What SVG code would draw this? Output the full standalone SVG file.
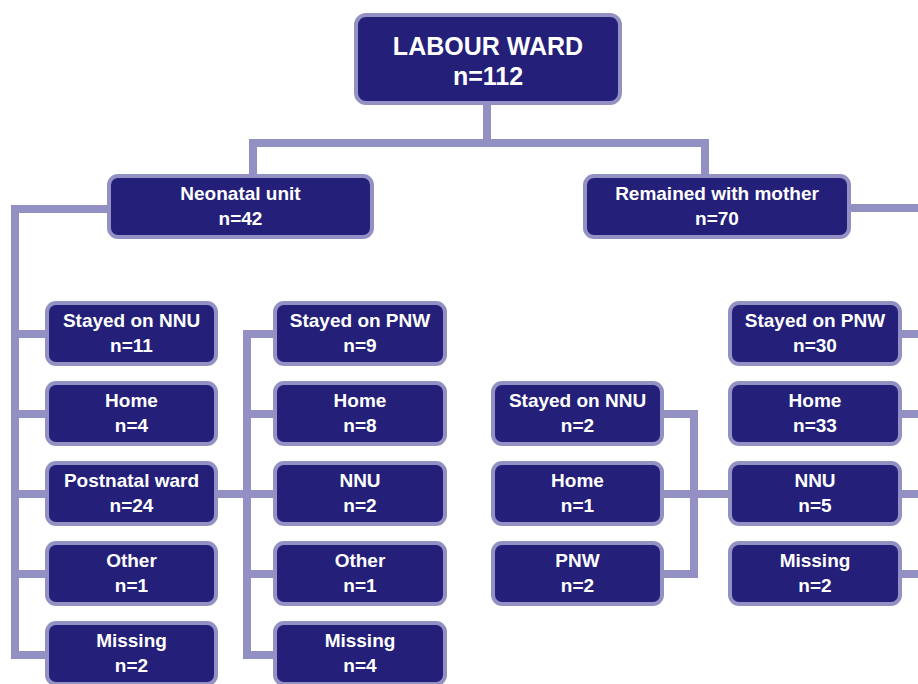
<svg xmlns="http://www.w3.org/2000/svg" width="918" height="684" viewBox="0 0 918 684">
<style>
.box{fill:#24207a;stroke:#9390c3;stroke-width:4}
.t{font-family:"Liberation Sans",Arial,sans-serif;font-weight:bold;font-size:19px;fill:#ffffff;text-anchor:middle}
.tb{font-size:25px}
.c{fill:none;stroke:#9390c3;stroke-width:8;stroke-linejoin:miter}
</style>
<rect width="918" height="684" fill="#ffffff"/>
<g id="connectors">
<path class="c" d="M487,105 V143 M253,176 V143 H705 V176"/>
<path class="c" d="M107,209 H15 V655 H45 M15,334 H45 M15,414 H45 M15,494 H45 M15,574 H45"/>
<path class="c" d="M273,334 H247 V655 H273 M247,414 H273 M247,574 H273 M218,494 H273"/>
<path class="c" d="M851,208 H918 M902,334 H918 M902,414 H918 M902,494 H918 M902,574 H918"/>
<path class="c" d="M664,414 H694 V574 H664 M664,494 H728"/>
</g>
<g id="labour-ward"><rect class="box" x="356" y="15" width="264" height="88" rx="10"/><text class="t tb" x="488" y="55">LABOUR WARD</text><text class="t tb" x="488" y="85">n=112</text></g>
<g id="neonatal-unit"><rect class="box" x="109" y="176" width="263" height="61" rx="9"/><text class="t" x="240.5" y="200">Neonatal unit</text><text class="t" x="240.5" y="225">n=42</text></g>
<g id="remained"><rect class="box" x="585" y="176" width="264" height="61" rx="9"/><text class="t" x="717" y="200">Remained with mother</text><text class="t" x="717" y="225">n=70</text></g>

<g id="nnu-stayed"><rect class="box" x="47" y="303" width="169" height="61" rx="9"/><text class="t" x="131.5" y="327">Stayed on NNU</text><text class="t" x="131.5" y="352">n=11</text></g>
<g id="nnu-home"><rect class="box" x="47" y="383" width="169" height="61" rx="9"/><text class="t" x="131.5" y="407">Home</text><text class="t" x="131.5" y="432">n=4</text></g>
<g id="nnu-pnw"><rect class="box" x="47" y="463" width="169" height="61" rx="9"/><text class="t" x="131.5" y="487">Postnatal ward</text><text class="t" x="131.5" y="512">n=24</text></g>
<g id="nnu-other"><rect class="box" x="47" y="543" width="169" height="61" rx="9"/><text class="t" x="131.5" y="567">Other</text><text class="t" x="131.5" y="592">n=1</text></g>
<g id="nnu-missing"><rect class="box" x="47" y="623" width="169" height="61" rx="9"/><text class="t" x="131.5" y="647">Missing</text><text class="t" x="131.5" y="672">n=2</text></g>

<g id="pnw-stayed"><rect class="box" x="275" y="303" width="170" height="61" rx="9"/><text class="t" x="360" y="327">Stayed on PNW</text><text class="t" x="360" y="352">n=9</text></g>
<g id="pnw-home"><rect class="box" x="275" y="383" width="170" height="61" rx="9"/><text class="t" x="360" y="407">Home</text><text class="t" x="360" y="432">n=8</text></g>
<g id="pnw-nnu"><rect class="box" x="275" y="463" width="170" height="61" rx="9"/><text class="t" x="360" y="487">NNU</text><text class="t" x="360" y="512">n=2</text></g>
<g id="pnw-other"><rect class="box" x="275" y="543" width="170" height="61" rx="9"/><text class="t" x="360" y="567">Other</text><text class="t" x="360" y="592">n=1</text></g>
<g id="pnw-missing"><rect class="box" x="275" y="623" width="170" height="61" rx="9"/><text class="t" x="360" y="647">Missing</text><text class="t" x="360" y="672">n=4</text></g>

<g id="m-nnu-stayed"><rect class="box" x="493" y="383" width="169" height="61" rx="9"/><text class="t" x="577.5" y="407">Stayed on NNU</text><text class="t" x="577.5" y="432">n=2</text></g>
<g id="m-nnu-home"><rect class="box" x="493" y="463" width="169" height="61" rx="9"/><text class="t" x="577.5" y="487">Home</text><text class="t" x="577.5" y="512">n=1</text></g>
<g id="m-nnu-pnw"><rect class="box" x="493" y="543" width="169" height="61" rx="9"/><text class="t" x="577.5" y="567">PNW</text><text class="t" x="577.5" y="592">n=2</text></g>

<g id="m-stayed"><rect class="box" x="730" y="303" width="170" height="61" rx="9"/><text class="t" x="815" y="327">Stayed on PNW</text><text class="t" x="815" y="352">n=30</text></g>
<g id="m-home"><rect class="box" x="730" y="383" width="170" height="61" rx="9"/><text class="t" x="815" y="407">Home</text><text class="t" x="815" y="432">n=33</text></g>
<g id="m-nnu"><rect class="box" x="730" y="463" width="170" height="61" rx="9"/><text class="t" x="815" y="487">NNU</text><text class="t" x="815" y="512">n=5</text></g>
<g id="m-missing"><rect class="box" x="730" y="543" width="170" height="61" rx="9"/><text class="t" x="815" y="567">Missing</text><text class="t" x="815" y="592">n=2</text></g>
</svg>
